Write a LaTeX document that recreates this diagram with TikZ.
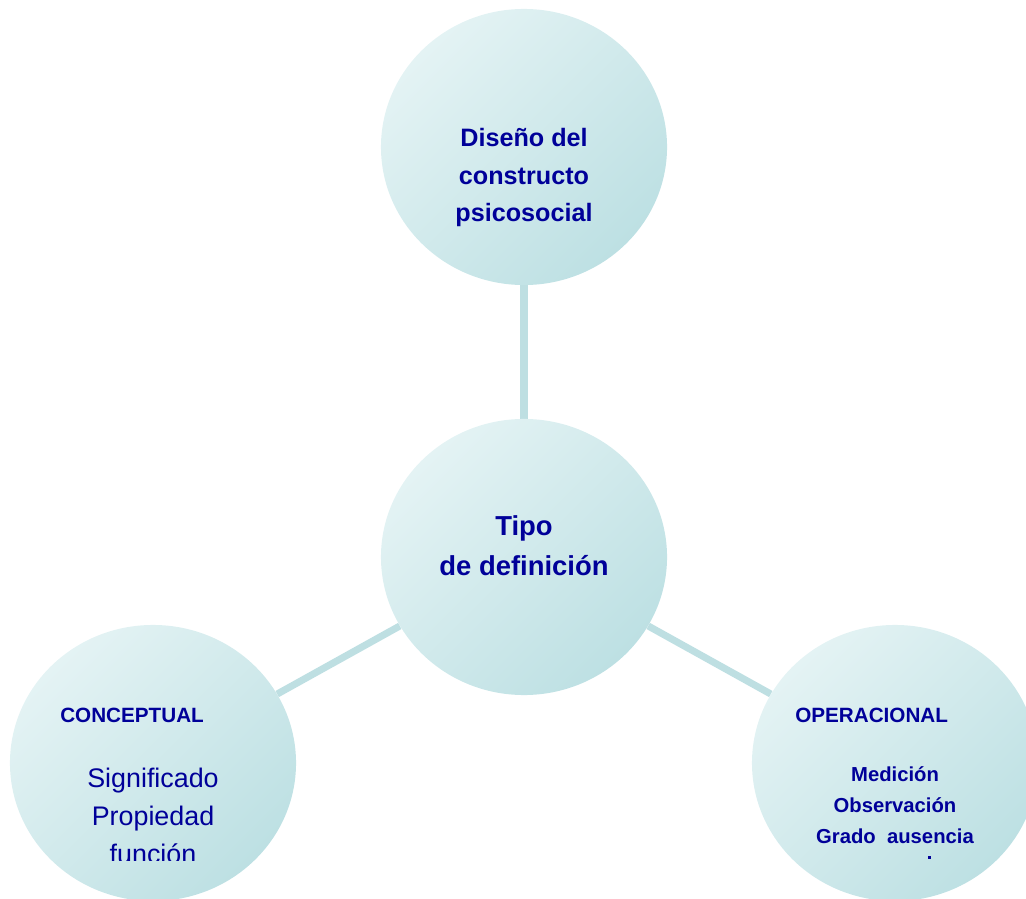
\documentclass[tikz,border=0pt]{standalone}
\usepackage{fontspec}
\setmainfont{Liberation Sans}
\usepackage{xcolor}
\usepackage{tikz}
\usetikzlibrary{shapes.geometric,backgrounds}

\definecolor{txtblue}{HTML}{000099}
\definecolor{balllight}{HTML}{E4F3F4}
\definecolor{balldark}{HTML}{BDE0E3}
\definecolor{linkcol}{HTML}{BEDFE2}

\tikzset{
    ball/.style={ellipse, inner sep=0pt, minimum width=7.15cm, minimum height=6.9cm,
        top color=balllight, middle color=balllight, bottom color=balldark, shading angle=45},
    link/.style={draw=linkcol, line width=5pt},
    txt/.style={text=txtblue, align=center, inner sep=0pt}
}

\begin{document}
\begin{tikzpicture}[x=0.025cm, y=-0.025cm]
    \useasboundingbox (0,0) rectangle (1026,899);
    \clip (0,0) rectangle (1026,899);

    % Circles
    \node[ball] (diseno) at (524,147) {};
    \node[ball] (tipo) at (524,557) {};
    \node[ball] (concep) at (153,763) {};
    \node[ball] (operac) at (895,763) {};

    % Connectors behind the circles
    \begin{scope}[on background layer]
        \draw[link] (diseno) -- (tipo);
        \draw[link] (tipo) -- (concep);
        \draw[link] (tipo) -- (operac);
    \end{scope}

    % Top and centre texts (base = last line)
    \node[txt, anchor=base, font=\bfseries\fontsize{17.9pt}{26.9pt}\selectfont] (disenotxt) at (524,222)
        {Diseño del\\constructo\\psicosocial};
    \node[txt, anchor=base, font=\bfseries\fontsize{19.5pt}{28.3pt}\selectfont] (tipotxt) at (524,575)
        {Tipo\\de definición};

    % Side texts, cut off at the bottom
    \begin{scope}
        \clip (0,0) rectangle (1026,860);
        \node[txt, anchor=base west, font=\bfseries\fontsize{14.7pt}{18pt}\selectfont] (concepttl) at (60,722) {CONCEPTUAL};
        \node[txt, anchor=base, font=\fontsize{19.1pt}{26.9pt}\selectfont] (conceptxt) at (153,863)
            {Significado\\Propiedad\\función};
        \node[txt, anchor=base west, font=\bfseries\fontsize{14.7pt}{18pt}\selectfont] (operacttl) at (795,722) {OPERACIONAL};
        \node[txt, anchor=base, font=\bfseries\fontsize{14.4pt}{22pt}\selectfont] (operactxt) at (895,843)
            {Medición\\Observación\\Grado~~ausencia};
        \fill[txtblue] (928,856) rectangle (931,859);
    \end{scope}
\end{tikzpicture}
\end{document}
